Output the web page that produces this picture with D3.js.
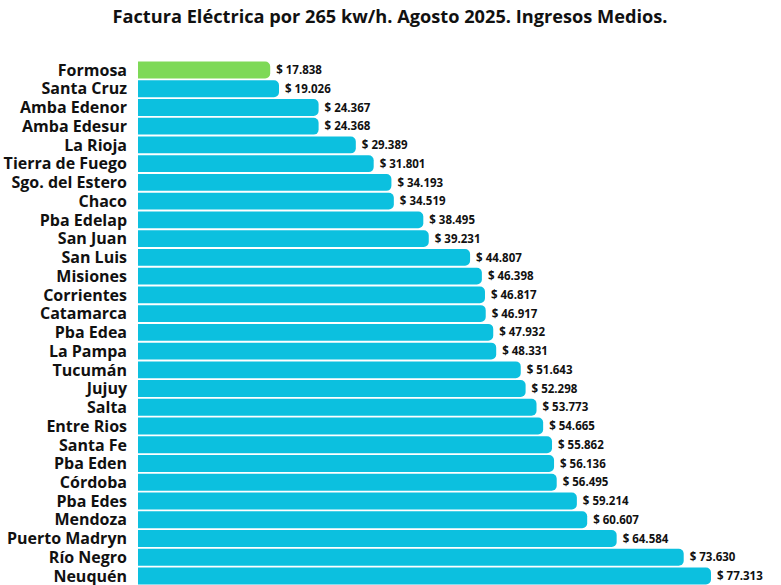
<!DOCTYPE html>
<html>
<head>
<meta charset="utf-8">
<script src="https://cdn.jsdelivr.net/npm/d3@7"></script>
<style>
  body { margin: 0; background: #fff; }
  text { font-family: "Open Sans", sans-serif; font-weight: 700; }
</style>
</head>
<body>
<svg id="chart"></svg>
<script>
const provinces = ['Formosa', 'Santa Cruz', 'Amba Edenor', 'Amba Edesur', 'La Rioja', 'Tierra de Fuego',
  'Sgo. del Estero', 'Chaco', 'Pba Edelap', 'San Juan', 'San Luis', 'Misiones', 'Corrientes', 'Catamarca',
  'Pba Edea', 'La Pampa', 'Tucumán', 'Jujuy', 'Salta', 'Entre Rios', 'Santa Fe', 'Pba Eden', 'Córdoba',
  'Pba Edes', 'Mendoza', 'Puerto Madryn', 'Río Negro', 'Neuquén'];
const bills = [17838, 19026, 24367, 24368, 29389, 31801, 34193, 34519, 38495, 39231, 44807, 46398, 46817,
  46917, 47932, 48331, 51643, 52298, 53773, 54665, 55862, 56136, 56495, 59214, 60607, 64584, 73630, 77313];
const highlight = 'Formosa';

const W = 781, H = 585;
const svg = d3.select('#chart').attr('width', W).attr('height', H);

const data = provinces.map((p, i) => ({ name: p, value: bills[i] }));

const x = d3.scaleLinear().domain([0, 77313]).range([138, 711]);
const y = d3.scaleBand().domain(provinces)
  .range([60.6, 60.6 + 18.74 * provinces.length])
  .paddingInner(0.1).paddingOuter(0.05);

const fmt = d3.formatLocale({ decimal: ',', thousands: '.', grouping: [3], currency: ['$ ', ''] }).format('$,');

svg.append('text')
  .attr('x', 390).attr('y', 23)
  .attr('text-anchor', 'middle')
  .attr('font-size', 18.2)
  .attr('fill', '#111')
  .text('Factura Eléctrica por 265 kw/h. Agosto 2025. Ingresos Medios.');

// bar with rounded right end only
function barPath(d) {
  const x0 = x(0), x1 = x(d.value), y0 = y(d.name), h = y.bandwidth(), r = 5;
  return `M${x0},${y0}H${x1 - r}A${r},${r} 0 0 1 ${x1},${y0 + r}V${y0 + h - r}A${r},${r} 0 0 1 ${x1 - r},${y0 + h}H${x0}Z`;
}

svg.append('g').selectAll('path')
  .data(data)
  .join('path')
  .attr('d', barPath)
  .attr('fill', d => d.name === highlight ? '#7ed957' : '#0cc0df');

svg.append('g').selectAll('text')
  .data(data)
  .join('text')
  .attr('x', 127)
  .attr('y', d => y(d.name) + y.bandwidth() / 2)
  .attr('dy', '0.36em')
  .attr('text-anchor', 'end')
  .attr('font-size', 16)
  .attr('fill', '#111')
  .text(d => d.name);

svg.append('g').selectAll('text')
  .data(data)
  .join('text')
  .attr('x', d => x(d.value) + 6)
  .attr('y', d => y(d.name) + y.bandwidth() / 2)
  .attr('dy', '0.36em')
  .attr('font-size', 11.5)
  .attr('fill', '#111')
  .text(d => fmt(d.value));
</script>
</body>
</html>
